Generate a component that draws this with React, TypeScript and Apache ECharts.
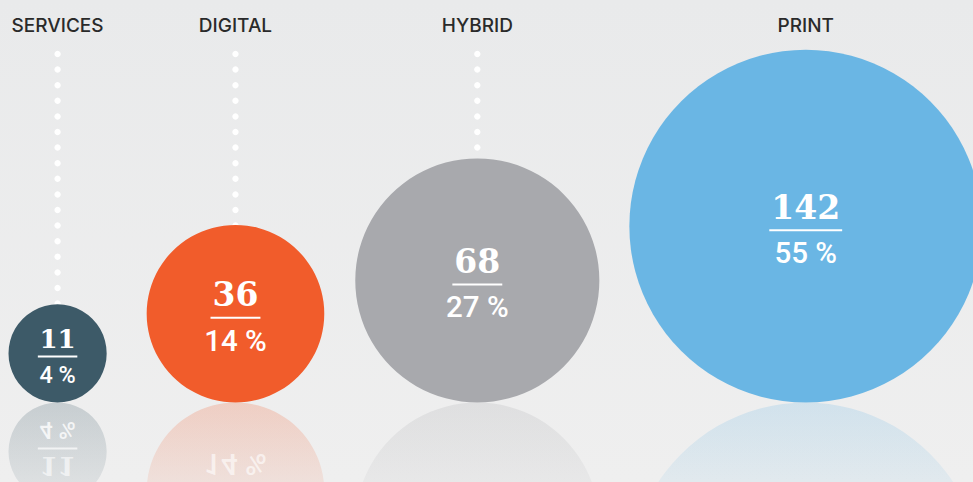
import { useEffect, useRef } from "react";
import * as echarts from "echarts";

const categories = ["SERVICES", "DIGITAL", "HYBRID", "PRINT"];
const values = [11, 36, 68, 142];
const percentLabels = ["4 %", "14 %", "27 %", "55 %"];
const colors = ["#3d5a68", "#f15c2b", "#a8a9ad", "#6ab6e4"];

const W = 973;
const H = 482;
const BASE = 402.5; // ground line (axis units = px)
const K = 14.8; // radius per sqrt(value)
const GAPS = [8.5, 40, 31, 30];

function rgba(hex: string, a: number) {
  const n = parseInt(hex.slice(1), 16);
  return `rgba(${(n >> 16) & 255},${(n >> 8) & 255},${n & 255},${a})`;
}

let measureCtx: CanvasRenderingContext2D | null = null;
function textWidth(text: string, font: string) {
  if (!measureCtx) measureCtx = document.createElement("canvas").getContext("2d");
  if (!measureCtx) return text.length * 20;
  measureCtx.font = font;
  return measureCtx.measureText(text).width;
}

export default function App() {
  const ref = useRef<HTMLDivElement>(null);
  useEffect(() => {
    document.body.style.margin = "0";
    const chart = echarts.init(ref.current!, null, { renderer: "svg" });
    const radii = values.map((v) => K * Math.sqrt(v));
    const centers: number[] = [];
    let acc = 0;
    radii.forEach((r, i) => {
      acc += GAPS[i] + r;
      centers.push(acc);
      acc += r;
    });
    const data = values.map((v, i) => [centers[i], BASE, v, i]);

    const renderItem = (params: any, api: any) => {
      const i = api.value(3);
      const v = api.value(2);
      const [cx, by] = api.coord([api.value(0), api.value(1)]);
      const r = api.size([K * Math.sqrt(v), 0])[0];
      const cy = by - r;
      const s = Math.min(1, r / 62);
      const col = colors[i];
      const children: any[] = [];

      children.push({
        type: "text",
        x: cx,
        y: 25.5,
        style: {
          text: categories[i],
          fill: "#2a2a2a",
          fontFamily: "Inter",
          fontSize: 19,
          fontWeight: 500,
          align: "center",
          verticalAlign: "middle",
        },
      });

      for (let y = 54; y < cy - r + 6; y += 15.6) {
        children.push({
          type: "circle",
          shape: { cx, cy: y, r: 3.2 },
          style: { fill: "#ffffff" },
        });
      }

      // reflection
      children.push({
        type: "circle",
        shape: { cx, cy: by + r, r },
        style: {
          fill: {
            type: "linear",
            x: 0,
            y: by,
            x2: 0,
            y2: by + 150,
            global: true,
            colorStops: [
              { offset: 0, color: rgba(col, 0.22) },
              { offset: 1, color: rgba(col, 0) },
            ],
          },
        },
      });

      children.push({
        type: "circle",
        shape: { cx, cy, r },
        style: { fill: col },
      });

      const numFontSize = 33 * s;
      const pctFontSize = 29.5 * s;
      const numText = String(v);
      const uw =
        textWidth(numText, `bold ${numFontSize}px "DejaVu Serif"`) + 4 * s;
      const numY = cy - 19 * s;
      const lineY = cy + 4 * s;
      const pctY = cy + 27 * s;

      const numStyle = {
        text: numText,
        fill: "#ffffff",
        fontFamily: "DejaVu Serif",
        fontWeight: "bold",
        fontSize: numFontSize,
        align: "center",
        verticalAlign: "middle",
      };
      const pctStyle = {
        text: percentLabels[i],
        fill: "#ffffff",
        fontFamily: "Roboto",
        fontWeight: 500,
        fontSize: pctFontSize,
        align: "center",
        verticalAlign: "middle",
      };

      children.push({ type: "text", x: cx, y: numY, style: numStyle });
      children.push({
        type: "rect",
        shape: { x: cx - uw / 2, y: lineY - 1, width: uw, height: 2 },
        style: { fill: "#ffffff" },
      });
      children.push({ type: "text", x: cx, y: pctY, style: pctStyle });

      // mirrored texts (only those that reach into the visible area)
      const fade = (my: number) => Math.max(0, 0.92 - (my - by) * 0.005);
      const mNum = 2 * by - numY;
      const mLine = 2 * by - lineY;
      const mPct = 2 * by - pctY;
      if (mNum - numFontSize * 0.4 < H) {
        children.push({
          type: "text",
          x: cx,
          y: mNum,
          scaleY: -1,
          style: { ...numStyle, opacity: fade(mNum) },
        });
      }
      if (mLine < H) {
        children.push({
          type: "rect",
          shape: { x: cx - uw / 2, y: mLine - 1, width: uw, height: 2 },
          style: { fill: "#ffffff", opacity: fade(mLine) },
        });
      }
      if (mPct - pctFontSize * 0.4 < H) {
        children.push({
          type: "text",
          x: cx,
          y: mPct,
          scaleY: -1,
          style: { ...pctStyle, opacity: fade(mPct) },
        });
      }

      return { type: "group", children };
    };

    chart.setOption({
      animation: false,
      backgroundColor: {
        type: "linear",
        x: 0,
        y: 0,
        x2: 0,
        y2: 1,
        colorStops: [
          { offset: 0, color: "#e9eaeb" },
          { offset: 1, color: "#efefef" },
        ],
      },
      grid: { left: 0, right: 0, top: 0, bottom: 0 },
      xAxis: { type: "value", min: 0, max: W, show: false },
      yAxis: { type: "value", min: 0, max: H, inverse: true, show: false },
      series: [
        {
          type: "custom",
          renderItem,
          encode: { x: 0, y: 1 },
          data,
          silent: true,
        },
      ],
    });
    return () => chart.dispose();
  }, []);
  return <div ref={ref} style={{ width: W, height: H }} />;
}
